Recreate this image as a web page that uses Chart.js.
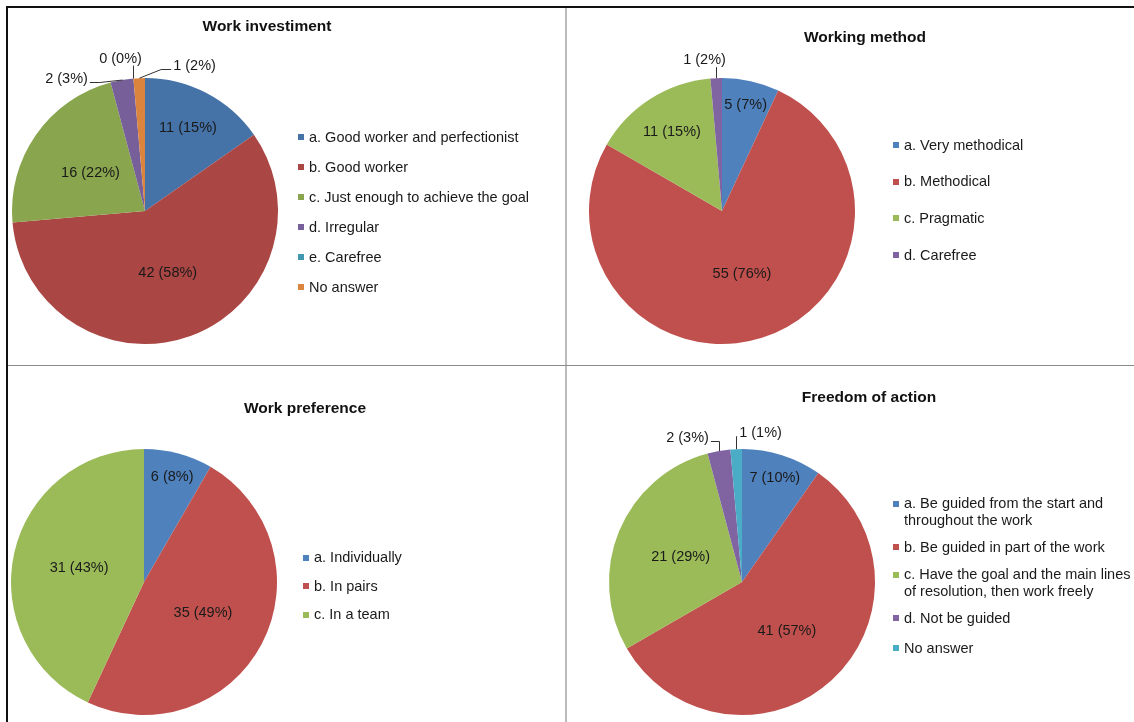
<!DOCTYPE html>
<html>
<head>
<meta charset="utf-8">
<script src="https://cdn.jsdelivr.net/npm/chart.js@4.4.0/dist/chart.umd.min.js"></script>
<style>
  body { margin: 0; background: #fff; width: 1134px; height: 722px; position: relative; overflow: hidden;
         font-family: "Liberation Sans", Arial, sans-serif; color: #1a1a1a; }
  .line { position: absolute; }
  canvas { position: absolute; }
  .ttl { position: absolute; font-weight: bold; font-size: 15.5px; line-height: 18px; white-space: nowrap;
         transform: translate(-50%, -50%); color: #111; }
  .legend { position: absolute; font-size: 14.5px; }
  .slot { display: flex; align-items: center; }
  .row { display: flex; align-items: flex-start; }
  .sw { width: 6px; height: 6px; margin-top: 5.5px; margin-right: 5px; flex: none; }
  .txt { line-height: 16.5px; white-space: nowrap; }
</style>
</head>
<body>

<div class="line" style="left:6px;top:6px;width:1128px;height:2px;background:#111"></div>
<div class="line" style="left:6px;top:6px;width:2px;height:716px;background:#111"></div>
<div class="line" style="left:565px;top:8px;width:2px;height:714px;background:#bbb"></div>
<div class="line" style="left:8px;top:365px;width:1126px;height:1px;background:#8a8a8a"></div>

<script>
// Work investiment
const investLabels = ["a. Good worker and perfectionist", "b. Good worker", "c. Just enough to achieve the goal",
                      "d. Irregular", "e. Carefree", "No answer"];
const investCounts = [11, 42, 16, 2, 0, 1];
const investPercents = [15, 58, 22, 3, 0, 2];

// Working method
const methodLabels = ["a. Very methodical", "b. Methodical", "c. Pragmatic", "d. Carefree"];
const methodCounts = [5, 55, 11, 1];
const methodPercents = [7, 76, 15, 2];

// Work preference
const prefLabels = ["a. Individually", "b. In pairs", "c. In a team"];
const prefCounts = [6, 35, 31];
const prefPercents = [8, 49, 43];

// Freedom of action
const freedomLabels = [["a. Be guided from the start and", "throughout the work"], "b. Be guided in part of the work",
                       ["c. Have the goal and the main lines", "of resolution, then work freely"],
                       "d. Not be guided", "No answer"];
const freedomCounts = [7, 41, 21, 2, 1];
const freedomPercents = [10, 57, 29, 3, 1];

const darkColors = ['#4572a7', '#aa4643', '#89a54e', '#77609a', '#4198af', '#db843d'];
const officeColors = ['#4f81bd', '#c0504d', '#9bbb59', '#8064a2', '#4bacc6', '#f79646'];

// draws "n (p%)" on each slice, small ones outside with a leader line
function makePieLabels(percents, callouts) {
  return {
    id: 'pieLabels',
    afterDatasetsDraw(chart) {
      const ctx = chart.ctx;
      const ds = chart.data.datasets[0];
      const meta = chart.getDatasetMeta(0);
      const total = ds.data.reduce((a, b) => a + b, 0);
      ctx.save();
      ctx.font = '14.5px "Liberation Sans", Arial, sans-serif';
      ctx.fillStyle = '#1a1a1a';
      ctx.strokeStyle = '#333';
      ctx.lineWidth = 1;
      ctx.textAlign = 'center';
      ctx.textBaseline = 'middle';
      meta.data.forEach((arc, i) => {
        const p = arc.getProps(['x', 'y', 'startAngle', 'endAngle', 'outerRadius'], true);
        const mid = (p.startAngle + p.endAngle) / 2;
        const text = ds.data[i] + ' (' + percents[i] + '%)';
        const share = ds.data[i] / total;
        const c = callouts[i];
        if (!c) {
          const f = share < 0.12 ? 0.82 : share < 0.2 ? 0.7 : 0.5;
          ctx.fillText(text, p.x + Math.cos(mid) * p.outerRadius * f, p.y + Math.sin(mid) * p.outerRadius * f);
          return;
        }
        const ax = Math.round(p.x + Math.cos(mid) * p.outerRadius) + 0.5;
        const ay = p.y + Math.sin(mid) * p.outerRadius;
        const lx = ax + c[0], ly = ay + c[1];
        const w = ctx.measureText(text).width;
        const left = lx - w / 2, right = lx + w / 2;
        const ey = Math.round(ly + 3) + 0.5;
        ctx.beginPath();
        if (ax >= left && ax <= right) {
          ctx.moveTo(ax, ay);
          ctx.lineTo(ax, ly + 7);
        } else if (ax < left) {
          const sx = left - 2;
          ctx.moveTo(sx, ey);
          ctx.lineTo(Math.max(sx - 10, ax), ey);
          ctx.lineTo(ax, ay);
        } else {
          const sx = right + 2;
          ctx.moveTo(sx, ey);
          ctx.lineTo(Math.min(sx + 10, ax), ey);
          ctx.lineTo(ax, ay);
        }
        ctx.stroke();
        ctx.fillText(text, lx, ly);
      });
      ctx.restore();
    }
  };
}

function addText(cls, x, y, html) {
  const d = document.createElement('div');
  d.className = cls;
  d.style.left = x + 'px';
  d.style.top = y + 'px';
  d.innerHTML = html;
  document.body.appendChild(d);
  return d;
}

function drawPanel(p) {
  const cv = document.createElement('canvas');
  cv.width = p.box[2];
  cv.height = p.box[3];
  cv.style.left = p.box[0] + 'px';
  cv.style.top = p.box[1] + 'px';
  document.body.appendChild(cv);

  const cx = p.center[0] - p.box[0], cy = p.center[1] - p.box[1], r = p.radius;
  new Chart(cv, {
    type: 'pie',
    data: {
      labels: p.labels,
      datasets: [{ data: p.counts, backgroundColor: p.colors, borderWidth: 0, hoverOffset: 0 }]
    },
    options: {
      responsive: false,
      animation: false,
      layout: { padding: { left: cx - r, top: cy - r, right: p.box[2] - cx - r, bottom: p.box[3] - cy - r } },
      plugins: { legend: { display: false }, tooltip: { enabled: false } }
    },
    plugins: [makePieLabels(p.percents, p.callouts)]
  });

  addText('ttl', p.titlePos[0], p.titlePos[1], p.title);

  const lg = addText('legend', p.legendPos[0], p.legendPos[1], '');
  p.labels.forEach((lab, i) => {
    const lines = Array.isArray(lab) ? lab : [lab];
    const slot = document.createElement('div');
    slot.className = 'slot';
    slot.style.height = (lines.length > 1 ? p.slots[1] : p.slots[0]) + 'px';
    slot.innerHTML = '<div class="row"><span class="sw" style="background:' + p.colors[i] + '"></span>' +
                     '<div class="txt">' + lines.join('<br>') + '</div></div>';
    lg.appendChild(slot);
  });
}

drawPanel({
  title: 'Work investiment', titlePos: [267, 26],
  labels: investLabels, counts: investCounts, percents: investPercents, colors: darkColors,
  box: [8, 8, 557, 357], center: [145, 211], radius: 133,
  callouts: { 3: [-56, -1], 4: [-13, -20], 5: [55, -12] },
  legendPos: [298, 122], slots: [30, 30]
});

drawPanel({
  title: 'Working method', titlePos: [865, 37],
  labels: methodLabels, counts: methodCounts, percents: methodPercents, colors: officeColors,
  box: [567, 8, 567, 357], center: [722, 211], radius: 133,
  callouts: { 3: [-12, -18] },
  legendPos: [893, 126.5], slots: [36.7, 36.7]
});

drawPanel({
  title: 'Work preference', titlePos: [305, 408],
  labels: prefLabels, counts: prefCounts, percents: prefPercents, colors: officeColors,
  box: [8, 367, 557, 355], center: [144, 582], radius: 133,
  callouts: {},
  legendPos: [303, 543], slots: [28.5, 28.5]
});

drawPanel({
  title: 'Freedom of action', titlePos: [869, 397],
  labels: freedomLabels, counts: freedomCounts, percents: freedomPercents, colors: officeColors,
  box: [567, 367, 567, 355], center: [742, 582], radius: 133,
  callouts: { 3: [-32, -13], 4: [24, -16] },
  legendPos: [893, 491], slots: [30, 41]
});
</script>
</body>
</html>
